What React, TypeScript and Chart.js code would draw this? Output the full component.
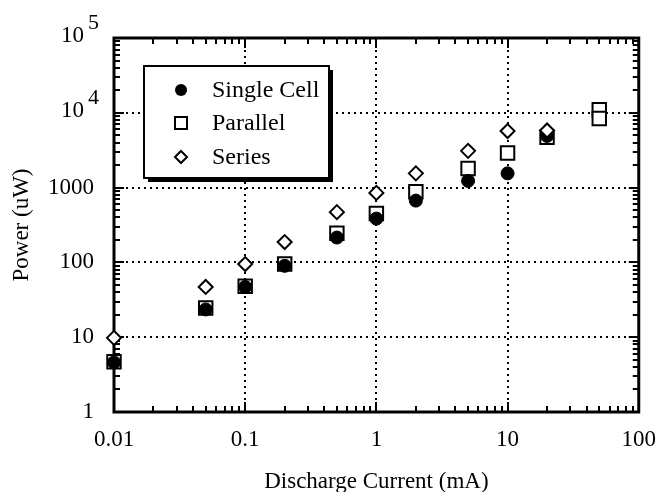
import { useEffect, useRef } from 'react';
import { Chart, registerables } from 'chart.js';

Chart.register(...registerables);

const CURRENT_SINGLE = [0.01, 0.05, 0.1, 0.2, 0.5, 1, 2, 5, 10, 20];
const POWER_SINGLE = [4.6, 23.5, 47, 90, 215, 385, 670, 1230, 1550, 4900];
const CURRENT_PARALLEL = [0.01, 0.05, 0.1, 0.2, 0.5, 1, 2, 5, 10, 20, 50, 50];
const POWER_PARALLEL = [4.7, 24.5, 48, 95, 245, 450, 880, 1800, 2900, 4700, 11000, 8400];
const CURRENT_SERIES = [0.01, 0.05, 0.1, 0.2, 0.5, 1, 2, 5, 10, 20];
const POWER_SERIES = [9.8, 47, 95, 187, 470, 850, 1550, 3100, 5700, 5800];
const SERIES_NAMES = ['Single Cell', 'Parallel', 'Series'];
const X_TICKS = [0.01, 0.1, 1, 10, 100];
const X_LABELS = ['0.01', '0.1', '1', '10', '100'];
const Y_TICKS = [1, 10, 100, 1000, 10000, 100000];
const Y_LABELS = ['1', '10', '100', '1000', '10^4', '10^5'];
const X_TITLE = 'Discharge Current (mA)';
const Y_TITLE = 'Power (uW)';

const FONT = "'Liberation Serif', 'Times New Roman', serif";

const pts = (xs: number[], ys: number[]) => xs.map((x, i) => ({ x, y: ys[i] }));

const framePlugin = {
  id: 'frame',
  beforeDatasetsDraw(chart: any) {
    const { ctx, chartArea, scales } = chart;
    const { left, right, top, bottom } = chartArea;
    const xs = scales.x;
    const ys = scales.y;
    ctx.save();
    ctx.strokeStyle = '#000';
    ctx.setLineDash([2, 4]);
    ctx.lineWidth = 2;
    X_TICKS.slice(1, -1).forEach((v) => {
      const px = Math.round(xs.getPixelForValue(v));
      ctx.beginPath();
      ctx.moveTo(px, top);
      ctx.lineTo(px, bottom);
      ctx.stroke();
    });
    Y_TICKS.slice(1, -1).forEach((v) => {
      const py = Math.round(ys.getPixelForValue(v));
      ctx.beginPath();
      ctx.moveTo(left, py);
      ctx.lineTo(right, py);
      ctx.stroke();
    });
    ctx.setLineDash([]);
    ctx.lineWidth = 2;
    for (let d = 0; d < X_TICKS.length; d++) {
      for (let m = 1; m <= 9; m++) {
        const v = X_TICKS[d] * m;
        if (v > X_TICKS[X_TICKS.length - 1]) break;
        const px = Math.round(xs.getPixelForValue(v));
        const len = m === 1 ? 10 : 6;
        ctx.beginPath();
        ctx.moveTo(px, bottom);
        ctx.lineTo(px, bottom - len);
        ctx.moveTo(px, top);
        ctx.lineTo(px, top + len);
        ctx.stroke();
      }
    }
    for (let d = 0; d < Y_TICKS.length; d++) {
      for (let m = 1; m <= 9; m++) {
        const v = Y_TICKS[d] * m;
        if (v > Y_TICKS[Y_TICKS.length - 1]) break;
        const py = Math.round(ys.getPixelForValue(v));
        const len = m === 1 ? 10 : 6;
        ctx.beginPath();
        ctx.moveTo(left, py);
        ctx.lineTo(left + len, py);
        ctx.moveTo(right, py);
        ctx.lineTo(right - len, py);
        ctx.stroke();
      }
    }
    ctx.lineWidth = 3;
    ctx.strokeRect(left, top, right - left, bottom - top);
    ctx.restore();
  },
  afterDatasetsDraw(chart: any) {
    const { ctx } = chart;
    const bx = 144, by = 66, bw = 185, bh = 112;
    ctx.save();
    ctx.fillStyle = '#000';
    ctx.fillRect(bx + 4, by + 4, bw, bh);
    ctx.fillStyle = '#fff';
    ctx.fillRect(bx, by, bw, bh);
    ctx.strokeStyle = '#000';
    ctx.lineWidth = 2;
    ctx.strokeRect(bx, by, bw, bh);
    const dsets = chart.data.datasets;
    const rowsY = [90, 123, 157];
    dsets.forEach((ds: any, i: number) => {
      const cy = rowsY[i];
      const cx = 181;
      ctx.lineWidth = 2;
      ctx.strokeStyle = '#000';
      ctx.fillStyle = ds.backgroundColor;
      ctx.beginPath();
      if (ds.pointStyle === 'circle') {
        ctx.arc(cx, cy, 6, 0, Math.PI * 2);
        ctx.fill();
      } else if (ds.pointStyle === 'rect') {
        ctx.rect(cx - 6, cy - 6, 12, 12);
        ctx.fill();
        ctx.stroke();
      } else {
        ctx.moveTo(cx, cy - 6);
        ctx.lineTo(cx + 6, cy);
        ctx.lineTo(cx, cy + 6);
        ctx.lineTo(cx - 6, cy);
        ctx.closePath();
        ctx.fill();
        ctx.stroke();
      }
      ctx.fillStyle = '#000';
      ctx.font = `24px ${FONT}`;
      ctx.textAlign = 'left';
      ctx.textBaseline = 'middle';
      ctx.fillText(ds.label, 212, cy + 1);
    });
    ctx.restore();
  },
  afterDraw(chart: any) {
    const { ctx, scales } = chart;
    const ys = scales.y;
    ctx.save();
    ctx.fillStyle = '#000';
    ctx.textBaseline = 'middle';
    Y_TICKS.forEach((v, i) => {
      const lab = Y_LABELS[i];
      if (lab.indexOf('^') < 0) return;
      const [base, exp] = lab.split('^');
      const py = ys.getPixelForValue(v);
      ctx.font = `23px ${FONT}`;
      ctx.textAlign = 'right';
      ctx.fillText(base, 84, py - 2);
      ctx.font = `22px ${FONT}`;
      ctx.textAlign = 'left';
      ctx.fillText(exp, 88, py - 15);
    });
    ctx.restore();
  },
};

export default function App() {
  const ref = useRef<HTMLCanvasElement | null>(null);
  useEffect(() => {
    document.body.style.margin = '0';
    const canvas = ref.current;
    if (!canvas) return;
    const chart = new Chart(canvas, {
      type: 'scatter',
      data: {
        datasets: [
          {
            label: SERIES_NAMES[0],
            data: pts(CURRENT_SINGLE, POWER_SINGLE),
            pointStyle: 'circle',
            pointRadius: 6.5,
            backgroundColor: '#000',
            borderColor: '#000',
            borderWidth: 1,
            order: 1,
            clip: false,
          },
          {
            label: SERIES_NAMES[1],
            data: pts(CURRENT_PARALLEL, POWER_PARALLEL),
            pointStyle: 'rect',
            pointRadius: 9.5,
            backgroundColor: '#fff',
            borderColor: '#000',
            borderWidth: 2,
            order: 2,
            clip: false,
          },
          {
            label: SERIES_NAMES[2],
            data: pts(CURRENT_SERIES, POWER_SERIES),
            pointStyle: 'rectRot',
            pointRadius: 7,
            backgroundColor: '#fff',
            borderColor: '#000',
            borderWidth: 2,
            order: 0,
            clip: false,
          },
        ] as any,
      },
      options: {
        responsive: false,
        animation: false,
        events: [],
        layout: { padding: { top: 38, right: 16, left: 0, bottom: 0 } },
        plugins: {
          legend: { display: false },
          tooltip: { enabled: false },
        },
        scales: {
          x: {
            type: 'logarithmic',
            min: 0.01,
            max: 100,
            afterBuildTicks: (s: any) => {
              s.ticks = X_TICKS.map((v) => ({ value: v }));
            },
            afterFit: (s: any) => {
              s.height = 80;
            },
            grid: { display: false, drawTicks: false },
            border: { display: false },
            ticks: {
              autoSkip: false,
              maxRotation: 0,
              padding: 14,
              color: '#000',
              font: { family: FONT, size: 23 },
              callback: (_v: any, i: number) => X_LABELS[i],
            },
            title: {
              display: true,
              text: X_TITLE,
              color: '#000',
              font: { family: FONT, size: 23 },
              padding: { top: 0, bottom: -4 },
            },
          },
          y: {
            type: 'logarithmic',
            min: 1,
            max: 100000,
            afterBuildTicks: (s: any) => {
              s.ticks = Y_TICKS.map((v) => ({ value: v }));
            },
            afterFit: (s: any) => {
              s.width = 114;
            },
            grid: { display: false, drawTicks: false },
            border: { display: false },
            ticks: {
              autoSkip: false,
              padding: 20,
              color: '#000',
              font: { family: FONT, size: 23 },
              callback: (_v: any, i: number) => (Y_LABELS[i].indexOf('^') >= 0 ? '' : Y_LABELS[i]),
            },
            title: {
              display: true,
              text: Y_TITLE,
              color: '#000',
              font: { family: FONT, size: 23 },
              padding: { top: 8, bottom: 0 },
            },
          },
        },
      } as any,
      plugins: [framePlugin],
    });
    return () => chart.destroy();
  }, []);
  return (
    <div style={{ width: 670, height: 492, background: '#fff' }}>
      <canvas ref={ref} width={670} height={492} />
    </div>
  );
}
